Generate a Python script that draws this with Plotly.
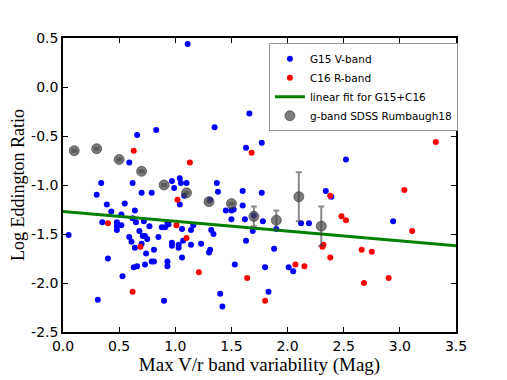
import plotly.graph_objects as go

# G15 V-band (blue)
g15_x = [0.05, 0.30, 0.31, 0.34, 0.35, 0.39, 0.40, 0.43, 0.48, 0.48, 0.48, 0.52,
         0.52, 0.53, 0.55, 0.59, 0.59, 0.61, 0.62, 0.62, 0.63, 0.64, 0.64, 0.65,
         0.66, 0.66, 0.68, 0.70, 0.70, 0.71, 0.72, 0.73, 0.73, 0.74, 0.75, 0.77,
         0.79, 0.79, 0.81, 0.81, 0.83, 0.85, 0.88, 0.90, 0.91, 0.93, 0.93, 0.93,
         0.94, 0.97, 0.97, 0.97, 0.99, 1.03, 1.03, 1.04, 1.04, 1.05, 1.06, 1.06,
         1.07, 1.08, 1.10, 1.11, 1.14, 1.14, 1.16, 1.23, 1.30, 1.31, 1.32, 1.31,
         1.34, 1.35, 1.37, 1.38, 1.40, 1.42, 1.45, 1.50, 1.50, 1.52, 1.53, 1.60,
         1.60, 1.62, 1.63, 1.63, 1.66, 1.69, 1.70, 1.77, 1.77, 1.78, 1.80, 1.83,
         1.88, 1.90, 2.01, 2.01, 2.05, 2.12, 2.19, 2.34, 2.39, 2.52, 2.94]
g15_y = [-1.51, -1.10, -2.17, -0.98, -1.38, -1.20, -1.75, -1.27, -1.38, -1.42,
         -1.46, -1.30, -1.41, -1.93, -1.19, -0.77, -1.53, -1.58, -0.98, -1.34,
         -1.84, -1.26, -1.64, -1.38, -1.83, -0.49, -1.47, -1.08, -1.60, -1.52,
         -1.37, -1.52, -1.81, -1.70, -1.55, -1.42, -1.08, -1.78, -1.78, -1.66,
         -0.44, -1.53, -1.43, -2.18, -1.43, -1.38, -1.78, -1.83, -1.40, -0.96,
         -1.59, -1.62, -1.03, -1.61, -1.64, -0.93, -1.20, -0.98, -1.45, -1.74,
         -1.57, -1.11, -0.98, 0.44, -1.46, -1.61, -1.41, -1.60, -1.69, -1.66,
         -1.46, -1.15, -1.50, -0.41, -0.98, -1.07, -2.11, -2.24, -1.26, -1.26,
         -1.35, -1.25, -1.81, -1.06, -1.21, -1.35, -1.57, -0.62, -0.27, -1.47,
         -1.31, -0.57, -1.08, -1.37, -1.84, -2.09, -1.65, -1.45, -0.21, -1.84,
         -1.88, -1.39, -1.39, -1.06, -1.12, -0.74, -1.37]

# C16 R-band (red)
c16_x = [0.40, 0.63, 0.62, 0.69, 1.02, 1.01, 1.10, 1.13, 1.21, 1.64, 1.68, 1.80,
         2.07, 2.15, 2.31, 2.32, 2.38, 2.38, 2.48, 2.52, 2.66, 2.68, 2.75, 2.90,
         3.04, 3.11, 3.32]
c16_y = [-1.39, -0.65, -2.09, -1.63, -1.15, -1.41, -1.54, -0.77, -1.89, -1.95,
         -0.67, -2.18, -1.81, -1.83, -1.63, -1.61, -1.11, -1.74, -1.32, -1.36,
         -1.66, -2.00, -1.68, -1.95, -1.05, -1.47, -0.56]

# g-band SDSS Rumbaugh18 (binned, with errors)
sdss_x = [0.1, 0.3, 0.5, 0.7, 0.9, 1.1, 1.3, 1.5, 1.7, 1.9, 2.1, 2.3]
sdss_y = [-0.65, -0.63, -0.74, -0.86, -1.00, -1.08, -1.17, -1.19, -1.32, -1.36,
          -1.12, -1.42]
sdss_err = [0.01, 0.01, 0.01, 0.01, 0.01, 0.01, 0.01, 0.01, 0.10, 0.10, 0.25, 0.20]

# linear fit for G15+C16
fit_x = [0.0, 3.5]
fit_y = [-1.27, -1.62]

# tick labels
x_ticks = [0.0, 0.5, 1.0, 1.5, 2.0, 2.5, 3.0, 3.5]
x_ticktext = ['0.0', '0.5', '1.0', '1.5', '2.0', '2.5', '3.0', '3.5']
y_ticks = [0.5, 0.0, -0.5, -1.0, -1.5, -2.0, -2.5]
y_ticktext = ['0.5', '0.0', '-0.5', '-1.0', '-1.5', '-2.0', '-2.5']

fig = go.Figure()
fig.add_trace(go.Scatter(
    x=g15_x, y=g15_y, mode='markers', name='G15 V-band',
    marker=dict(color='#0000ff', size=6, line=dict(width=0))))
fig.add_trace(go.Scatter(
    x=c16_x, y=c16_y, mode='markers', name='C16 R-band',
    marker=dict(color='#ff0000', size=6, line=dict(width=0))))
fig.add_trace(go.Scatter(
    x=fit_x, y=fit_y, mode='lines', name='linear fit for G15+C16',
    line=dict(color='#008000', width=3)))
fig.add_trace(go.Scatter(
    x=sdss_x, y=sdss_y, mode='markers', name='g-band SDSS Rumbaugh18',
    marker=dict(color='rgba(70,70,70,0.7)', size=10,
                line=dict(width=1, color='rgba(50,50,50,0.6)')),
    error_y=dict(type='data', array=sdss_err, color='rgba(60,60,60,0.6)',
                 thickness=2, width=3)))

axis_common = dict(
    showline=True, linecolor='black', linewidth=1.5, mirror='ticks',
    ticks='inside', ticklen=5, tickcolor='black', showgrid=False,
    zeroline=False, automargin=False,
    tickfont=dict(family='DejaVu Sans', size=14, color='black'),
)

# the page body adds an 8px offset, so margins are shifted to compensate
fig.update_layout(
    width=507, height=380,
    margin=dict(l=55, r=59, t=30, b=56),
    paper_bgcolor='white', plot_bgcolor='white',
    xaxis=dict(range=[0, 3.5], tickvals=x_ticks, ticktext=x_ticktext,
               title=dict(text='Max V/r band variability (Mag)', standoff=2,
                          font=dict(family='Liberation Serif', size=19,
                                    color='black')),
               **axis_common),
    yaxis=dict(range=[-2.5, 0.5], tickvals=y_ticks, ticktext=y_ticktext,
               title=dict(text='Log Eddington Ratio', standoff=3,
                          font=dict(family='Liberation Serif', size=18,
                                    color='black')),
               **axis_common),
    legend=dict(x=0.524, y=0.982, xanchor='left', yanchor='top',
                bgcolor='white', bordercolor='#999999', borderwidth=1,
                font=dict(family='DejaVu Sans', size=10.5, color='black'),
                tracegroupgap=0, itemwidth=30),
    showlegend=True,
)

fig.write_html("out.html")
